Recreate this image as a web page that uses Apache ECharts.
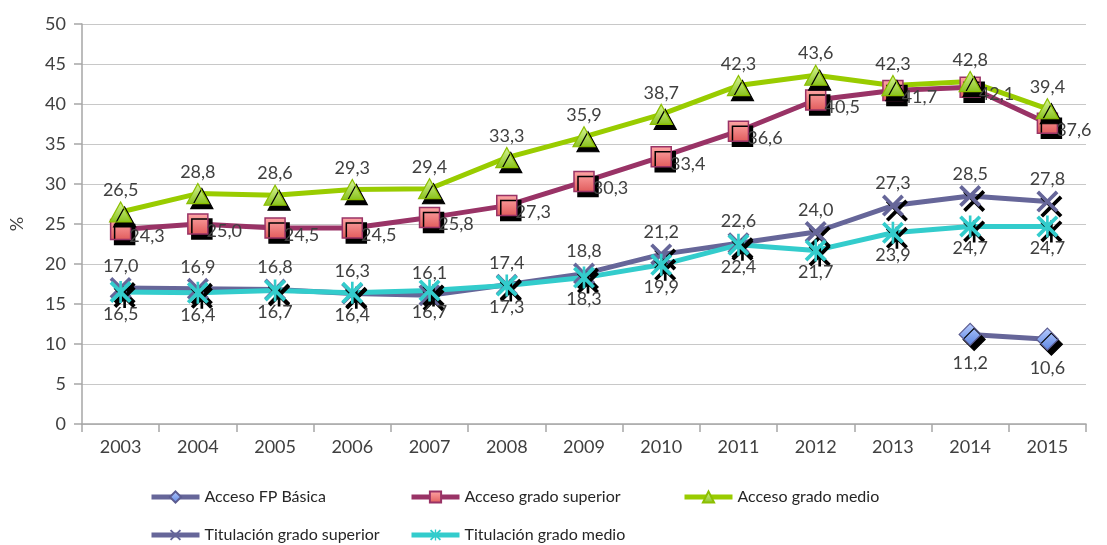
<!DOCTYPE html>
<html>
<head>
<meta charset="utf-8">
<script src="https://cdn.jsdelivr.net/npm/echarts@6/dist/echarts.min.js"></script>
<style>html,body{margin:0;padding:0;background:#fff}#c{width:1107px;height:545px}</style>
</head>
<body>
<div id="c"></div>
<script>
const years = ['2003','2004','2005','2006','2007','2008','2009','2010','2011','2012','2013','2014','2015'];
const accesoFPBasica = [null,null,null,null,null,null,null,null,null,null,null,11.2,10.6];
const accesoGradoSuperior = [24.3,25.0,24.5,24.5,25.8,27.3,30.3,33.4,36.6,40.5,41.7,42.1,37.6];
const accesoGradoMedio = [26.5,28.8,28.6,29.3,29.4,33.3,35.9,38.7,42.3,43.6,42.3,42.8,39.4];
const titulacionGradoSuperior = [17.0,16.9,16.8,16.3,16.1,17.4,18.8,21.2,22.6,24.0,27.3,28.5,27.8];
const titulacionGradoMedio = [16.5,16.4,16.7,16.4,16.7,17.3,18.3,19.9,22.4,21.7,23.9,24.7,24.7];
const seriesNames = ['Acceso FP Básica','Acceso grado superior','Acceso grado medio','Titulación grado superior','Titulación grado medio'];

const FONT = 'Lato';
const fmt = p => (p.value == null ? '' : Number(p.value).toFixed(1).replace('.', ','));
const xPath = 'path://M0,1.2L1.2,0L5,3.8L8.8,0L10,1.2L6.2,5L10,8.8L8.8,10L5,6.2L1.2,10L0,8.8L3.8,5Z';
const starPath = 'path://M0,1.2L1.2,0L5,3.8L8.8,0L10,1.2L6.2,5L10,8.8L8.8,10L5,6.2L1.2,10L0,8.8L3.8,5Z M4.4,0L5.6,0L5.6,10L4.4,10Z';
const shadow = {shadowColor:'#000', shadowBlur:0, shadowOffsetX:4, shadowOffsetY:5};
const lbl = (pos, extra) => Object.assign({show:true, position:pos, formatter:fmt, color:'#404040', fontFamily:FONT, fontSize:18, distance:3}, extra||{});

const chart = echarts.init(document.getElementById('c'), null, {renderer:'canvas'});
const legendBase = (name, left, top) => ({
  data:[name], left:left, top:top, orient:'horizontal', itemWidth:48, itemHeight:14,
  lineStyle:{width:5},
  textStyle:{fontFamily:FONT, fontSize:16, color:'#262626'}, itemGap:0, selectedMode:false,
  padding:0
});
chart.setOption({
  animation:false,
  grid:{left:82, right:21, top:24, bottom:121, containLabel:false},
  legend:[
    legendBase(seriesNames[0], 149, 489),
    legendBase(seriesNames[1], 409, 489),
    legendBase(seriesNames[2], 682, 489),
    legendBase(seriesNames[3], 149, 527),
    legendBase(seriesNames[4], 409, 527)
  ],
  xAxis:{
    type:'category', data:years, boundaryGap:true,
    axisLine:{lineStyle:{color:'#a6a6a6', width:1.5}},
    axisTick:{show:true, alignWithLabel:false, length:8, lineStyle:{color:'#a6a6a6', width:1.5}},
    axisLabel:{color:'#404040', fontFamily:FONT, fontSize:18, margin:14},
    splitLine:{show:false}
  },
  yAxis:{
    type:'value', min:0, max:50, interval:5,
    name:'%', nameLocation:'middle', nameGap:56, nameRotate:90,
    nameTextStyle:{color:'#404040', fontFamily:FONT, fontSize:18},
    axisLine:{show:true, lineStyle:{color:'#a6a6a6', width:1.5}},
    axisTick:{show:true, length:8, inside:false, lineStyle:{color:'#a6a6a6', width:1.5}},
    axisLabel:{color:'#404040', fontFamily:FONT, fontSize:18, margin:16},
    splitLine:{show:true, lineStyle:{color:'#c8c8c8', width:1.2}}
  },
  series:[
    {
      name:seriesNames[0], type:'line', data:accesoFPBasica, connectNulls:false,
      symbol:'diamond', symbolSize:[22,22],
      lineStyle:{color:'#666699', width:5},
      itemStyle:Object.assign({color:new echarts.graphic.LinearGradient(0,0,0,1,[{offset:0,color:'#b8ccff'},{offset:1,color:'#5b84e0'}]), borderColor:'#5c5c90', borderWidth:1.2}, shadow),
      label:lbl('bottom', {distance:8})
    },
    {
      name:seriesNames[1], type:'line', data:accesoGradoSuperior,
      symbol:'rect', symbolSize:20,
      lineStyle:{color:'#993366', width:5},
      itemStyle:Object.assign({color:new echarts.graphic.LinearGradient(0,0,0,1,[{offset:0,color:'#ffa8a8'},{offset:1,color:'#e05a5a'}]), borderColor:'#993366', borderWidth:1.5}, shadow),
      label:lbl('right', {distance:-4, offset:[2,7]})
    },
    {
      name:seriesNames[2], type:'line', data:accesoGradoMedio,
      symbol:'triangle', symbolSize:[22,20],
      lineStyle:{color:'#99cc00', width:5},
      itemStyle:Object.assign({color:new echarts.graphic.LinearGradient(0,0,0,1,[{offset:0,color:'#d8f59a'},{offset:1,color:'#88c21a'}]), borderColor:'#8cbf00', borderWidth:1.2}, shadow),
      label:lbl('top', {distance:2})
    },
    {
      name:seriesNames[3], type:'line', data:titulacionGradoSuperior,
      symbol:xPath, symbolSize:22,
      lineStyle:{color:'#666699', width:5},
      itemStyle:Object.assign({color:'#666699'}, shadow),
      label:lbl('top', {distance:2})
    },
    {
      name:seriesNames[4], type:'line', data:titulacionGradoMedio,
      symbol:starPath, symbolSize:22,
      lineStyle:{color:'#33cccc', width:5},
      itemStyle:Object.assign({color:'#33cccc'}, shadow),
      label:lbl('bottom', {distance:2})
    }
  ]
});
</script>
</body>
</html>
